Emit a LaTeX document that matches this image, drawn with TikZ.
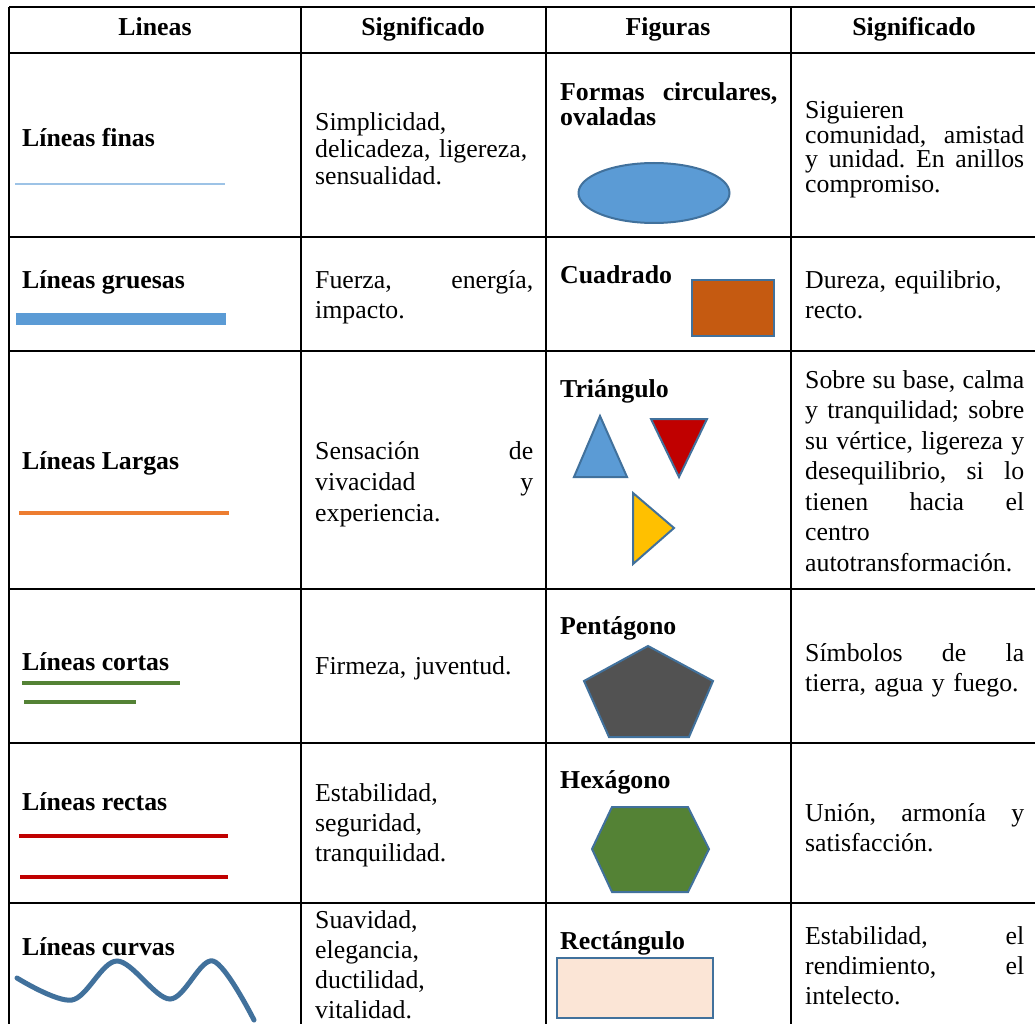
\documentclass[tikz,border=0pt]{standalone}
\usepackage{fontspec}
\setmainfont{Liberation Serif}
\usetikzlibrary{shapes.geometric}

\definecolor{edgeblue}{HTML}{41719C}
\definecolor{paleblue}{HTML}{9DC3E6}
\definecolor{midblue}{HTML}{5B9BD5}
\definecolor{orangeline}{HTML}{ED7D31}
\definecolor{greenline}{HTML}{548235}
\definecolor{redline}{HTML}{C00000}
\definecolor{rust}{HTML}{C55A11}
\definecolor{gold}{HTML}{FFC000}
\definecolor{slate}{HTML}{525252}
\definecolor{peach}{HTML}{FBE5D6}

\newcommand\cellsize[1]{\fontsize{25.8}{#1}\selectfont}

\tikzset{
  grid/.style={line width=2pt, black},
  head/.style={anchor=base, inner sep=0pt, font=\cellsize{30}\bfseries},
  label/.style={anchor=base west, inner sep=0pt, font=\cellsize{30}\bfseries},
  cell/.style={anchor=base west, inner sep=0pt, align=left, text width=#1, font=\cellsize{30}},
  cell/.default=218pt,
  shapeedge/.style={draw=edgeblue, line width=2pt, line join=miter},
  sample/.style={line width=#1},
}

\begin{document}
\begin{tikzpicture}[x=1pt,y=-1pt]
\useasboundingbox (0,0) rectangle (1035,1024);
\fill[white] (0,0) rectangle (1035,1024);

% table rules
\foreach \yy in {7,53,237,351,589,743,903}
  \draw[grid] (9,\yy) -- (1035,\yy);
\foreach \xx in {9,301,546,791}
  \draw[grid] (\xx,7) -- (\xx,1024);

% header row
\node[head] (h1) at (155,36) {Lineas};
\node[head] (h2) at (423,36) {Significado};
\node[head] (h3) at (668,36) {Figuras};
\node[head] (h4) at (914,36) {Significado};

% ---- row 1
\node[label] (l1) at (22,147) {Líneas finas};
\draw[paleblue, sample=1.5pt] (15,184) -- (225,184);
\node[cell, font=\cellsize{27}] (m1) at (315,131)
  {Simplicidad,\\ delicadeza, ligereza,\\ sensualidad.};
\node[cell=217pt, font=\cellsize{25}\bfseries] (f1) at (560,101)
  {Formas\hfill circulares,\\ ovaladas};
\node[ellipse, fill=midblue, shapeedge, minimum width=151pt, minimum height=60pt, inner sep=0pt] (oval) at (654,193) {};
\node[cell=219pt, font=\cellsize{24.5}] (s1) at (805,119)
  {Siguieren\\ comunidad,\hfill amistad\\ y\hfill unidad.\hfill En\hfill anillos\\ compromiso.};

% ---- row 2
\node[label] (l2) at (22,288) {Líneas gruesas};
\draw[midblue, sample=12pt] (16,319) -- (226,319);
\node[cell] (m2) at (315,288) {Fuerza,\hfill energía,\\ impacto.};
\node[label] (f2) at (560,283) {Cuadrado};
\filldraw[fill=rust, shapeedge] (692,280) rectangle (774,336);
\node[cell=219pt] (s2) at (805,288) {Dureza, equilibrio,\\ recto.};

% ---- row 3
\node[label] (l3) at (22,469) {Líneas Largas};
\draw[orangeline, sample=4pt] (19,513) -- (229,513);
\node[cell, font=\cellsize{31}] (m3) at (315,459)
  {Sensación\hfill de\\ vivacidad\hfill y\\ experiencia.};
\node[label] (f3) at (560,397) {Triángulo};
\filldraw[fill=midblue, shapeedge] (600,416) -- (627,477) -- (574,477) -- cycle;
\filldraw[fill=redline, shapeedge] (651,419) -- (707,419) -- (679,477) -- cycle;
\filldraw[fill=gold, shapeedge] (633,493) -- (674,528) -- (633,564) -- cycle;
\node[cell=219pt, font=\cellsize{30.5}] (s3) at (805,388)
  {Sobre\hfill su\hfill base,\hfill calma\\
   y\hfill tranquilidad;\hfill sobre\\
   su\hfill vértice,\hfill ligereza\hfill y\\
   desequilibrio,\hfill si\hfill lo\\
   tienen\hfill hacia\hfill el\\
   centro\\
   autotransformación.};

% ---- row 4
\node[label] (l4) at (22,670) {Líneas cortas};
\draw[greenline, sample=4pt] (22,683) -- (180,683);
\draw[greenline, sample=4pt] (24,702) -- (136,702);
\node[cell] (m4) at (315,674) {Firmeza, juventud.};
\node[label] (f4) at (560,634) {Pentágono};
\filldraw[fill=slate, shapeedge] (648,646) -- (713,681) -- (689,737) -- (609,737) -- (584,681) -- cycle;
\node[cell=219pt] (s4) at (805,661) {Símbolos\hfill de\hfill la\\ tierra, agua y fuego.};

% ---- row 5
\node[label] (l5) at (22,810) {Líneas rectas};
\draw[redline, sample=4pt] (19,836) -- (228,836);
\draw[redline, sample=4pt] (20,877) -- (228,877);
\node[cell] (m5) at (315,801) {Estabilidad,\\ seguridad,\\ tranquilidad.};
\node[label] (f5) at (560,788) {Hexágono};
\filldraw[fill=greenline, shapeedge] (612,807) -- (688,807) -- (709,849) -- (688,892) -- (612,892) -- (592,849) -- cycle;
\node[cell=219pt] (s5) at (805,821) {Unión,\hfill armonía\hfill y\\ satisfacción.};

% ---- row 6
\node[label] (l6) at (22,955) {Líneas curvas};
\draw[edgeblue, line width=5pt, line cap=round]
  plot[smooth, tension=0.55] coordinates {(17,978) (72,1000) (117,961) (170,999) (213,961) (254,1020)};
\node[cell, font=\cellsize{30}] (m6) at (315,928)
  {Suavidad,\\ elegancia,\\ ductilidad,\\ vitalidad.};
\node[label] (f6) at (560,949) {Rectángulo};
\filldraw[fill=peach, shapeedge] (557,958) rectangle (713,1018);
\node[cell=219pt] (s6) at (805,944) {Estabilidad,\hfill el\\ rendimiento,\hfill el\\ intelecto.};
\end{tikzpicture}
\end{document}
